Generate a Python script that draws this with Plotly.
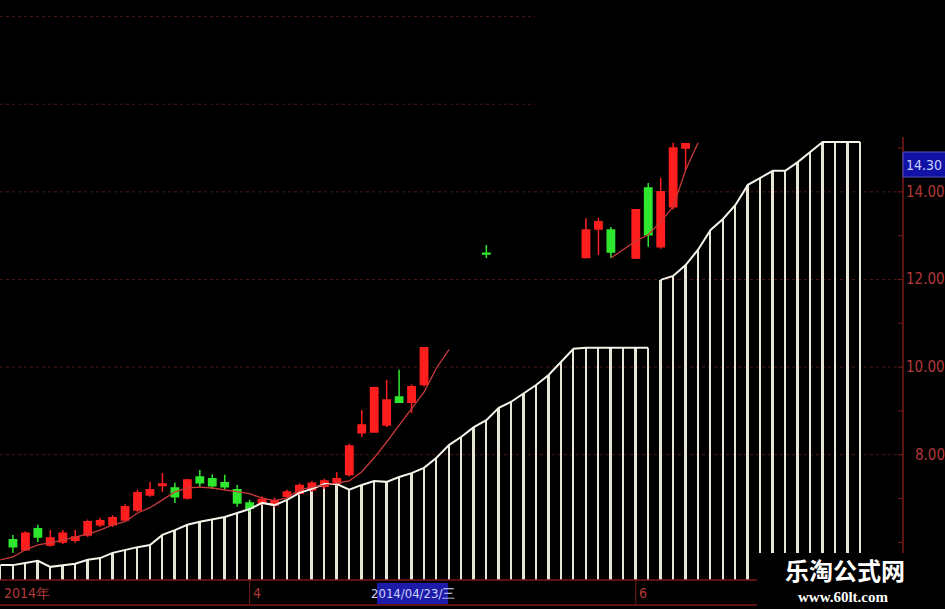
import plotly.graph_objects as go

# ---------------- data ----------------
# white step indicator (one value per bar, index 0..69)
white_vals = [5.48, 5.48, 5.53, 5.58, 5.44, 5.48, 5.51, 5.60, 5.64, 5.76,
              5.83, 5.89, 5.94, 6.17, 6.28, 6.40, 6.47, 6.53, 6.58, 6.67,
              6.76, 6.90, 6.85, 6.97, 7.13, 7.22, 7.33, 7.33, 7.20, 7.31,
              7.40, 7.38, 7.49, 7.58, 7.70, 7.93, 8.22, 8.41, 8.63, 8.79,
              9.07, 9.21, 9.39, 9.59, 9.82, 10.12, 10.42, 10.44, 10.44, 10.44,
              10.44, 10.44, 10.44, 11.99, 12.08, 12.33, 12.68, 13.13, 13.38, 13.70,
              14.16, 14.32, 14.48, 14.48, 14.68, 14.91, 15.14, 15.14, 15.14, 15.14]
white_idx = list(range(len(white_vals)))
white_break = 53  # line is interrupted before this bar

# red moving average (None = not shown)
ma_vals = [5.60, 5.67, 5.83, 5.94, 5.99, 6.05, 6.12, 6.19, 6.28, 6.40,
           6.47, 6.67, 6.79, 6.97, 7.15, 7.24, 7.26, 7.24, 7.20, 7.15,
           7.11, 7.01, 6.95, 7.01, 7.20, 7.26, 7.31, 7.36, 7.40, 7.61,
           7.93, 8.29, 8.66, 9.05, 9.43, 9.98, 10.40, None, None, None,
           None, None, None, None, None, None, None, None, None, 12.49,
           12.68, 12.88, 13.02, 13.32, 13.66, 14.50, 15.12]
ma_idx = list(range(len(ma_vals)))

# candlesticks
candle_idx = [1, 2, 3, 4, 5, 6, 7, 8, 9, 10, 11, 12, 13, 14, 15, 16, 17, 18, 19, 20,
              21, 22, 23, 24, 25, 26, 27, 28, 29, 30, 31, 32, 33, 34, 39,
              47, 48, 49, 51, 52, 53, 54, 55]
c_open = [6.06, 5.83, 6.31, 5.94, 6.01, 6.05, 6.17, 6.40, 6.40, 6.51, 6.74, 7.08, 7.30, 7.24, 7.01, 7.49, 7.45, 7.36, 7.20, 6.90,
          6.90, 6.85, 7.05, 7.12, 7.20, 7.28, 7.35, 7.55, 8.50, 8.52, 8.68, 9.32, 9.20, 9.60, 12.60,
          12.50, 13.15, 13.13, 12.49, 14.09, 12.75, 13.66, 15.00]
c_high = [6.17, 6.25, 6.40, 6.28, 6.28, 6.28, 6.52, 6.56, 6.62, 6.87, 7.20, 7.38, 7.58, 7.36, 7.45, 7.65, 7.55, 7.54, 7.31, 6.97,
          7.05, 7.02, 7.20, 7.35, 7.40, 7.45, 7.60, 8.25, 9.02, 9.55, 9.71, 9.94, 9.60, 10.45, 12.79,
          13.40, 13.41, 13.20, 13.60, 14.20, 14.32, 15.12, 15.12]
c_low = [5.76, 5.80, 6.01, 5.90, 5.96, 5.99, 6.12, 6.35, 6.35, 6.49, 6.70, 7.04, 7.15, 6.90, 6.98, 7.27, 7.22, 7.20, 6.81, 6.70,
         6.85, 6.80, 7.00, 7.08, 7.15, 7.22, 7.30, 7.50, 8.41, 8.50, 8.63, 9.18, 8.95, 9.55, 12.49,
         12.48, 12.56, 12.49, 12.47, 12.75, 12.70, 13.60, 14.50]
c_close = [5.90, 6.21, 6.12, 6.10, 6.21, 6.12, 6.47, 6.49, 6.56, 6.81, 7.13, 7.20, 7.33, 7.04, 7.42, 7.36, 7.29, 7.27, 6.90, 6.78,
           6.98, 6.95, 7.15, 7.30, 7.35, 7.40, 7.45, 8.20, 8.68, 9.53, 9.25, 9.20, 9.55, 10.44, 12.58,
           13.13, 13.32, 12.63, 13.59, 13.02, 14.00, 15.00, 15.10]

# axis labels
price_ticks = [8, 10, 12, 14]
price_labels = ["8.00", "10.00", "12.00", "14.00"]
minor_ticks = [6, 7, 8, 9, 10, 11, 12, 13, 14, 15]
upper_grid = [16, 18]
last_price_label = "14.30"
date_labels = ["2014年", "4", "6"]
date_label_idx = [0, 20, 51]
date_sep_idx = [20, 51]
cursor_label = "2014/04/23/三"
watermark_title = "乐淘公式网"
watermark_url = "www.60lt.com"

# ---------------- styling ----------------
Y_MIN, Y_MAX = 5.14, 18.38
X_MIN, X_MAX = -0.04, 72.45
PLOT_W, PLOT_H = 903, 580
RED = "#ff1e1e"
GREEN = "#2ee82e"
AXIS_RED = "#7a1a1a"
LABEL_RED = "#b03a3a"
GRID = "#4a1a14"
NARROW = "Liberation Sans Narrow, Arial Narrow, DejaVu Sans Condensed, sans-serif"

fig = go.Figure()

fig.add_trace(go.Bar(x=white_idx, y=white_vals, width=0.15,
                     marker=dict(color="#e6e4d4", line=dict(width=0)),
                     hoverinfo="skip"))
fig.add_trace(go.Scatter(x=white_idx[:white_break], y=white_vals[:white_break], mode="lines",
                         line=dict(color="#f4f4ea", width=2.0), hoverinfo="skip"))
fig.add_trace(go.Scatter(x=white_idx[white_break:], y=white_vals[white_break:], mode="lines",
                         line=dict(color="#f4f4ea", width=2.0), hoverinfo="skip"))
fig.add_trace(go.Scatter(x=ma_idx, y=ma_vals, mode="lines",
                         line=dict(color="#c83a3a", width=1.3), hoverinfo="skip"))
fig.add_trace(go.Candlestick(x=candle_idx, open=c_open, high=c_high, low=c_low, close=c_close,
                             increasing=dict(fillcolor=RED, line=dict(color=RED, width=1.5)),
                             decreasing=dict(fillcolor=GREEN, line=dict(color=GREEN, width=1.5)),
                             whiskerwidth=0, hoverinfo="skip"))

shapes = []
# grid lines
for v in price_ticks:
    shapes.append(dict(type="line", xref="paper", yref="y", x0=0, x1=1, y0=v, y1=v,
                       line=dict(color=GRID, width=1, dash="dot"), layer="below"))
for v in upper_grid:
    shapes.append(dict(type="line", xref="paper", yref="y", x0=0, x1=535 / PLOT_W, y0=v, y1=v,
                       line=dict(color=GRID, width=1, dash="dot"), layer="below"))
# right axis line + ticks
shapes.append(dict(type="line", xref="paper", yref="y", x0=1, x1=1, y0=Y_MIN, y1=15.25,
                   line=dict(color=AXIS_RED, width=1.5)))
for v in minor_ticks:
    shapes.append(dict(type="line", xref="paper", yref="y", x0=1 - 5 / PLOT_W, x1=1, y0=v, y1=v,
                       line=dict(color=AXIS_RED, width=1)))
# date strip
strip_bottom = -25 / PLOT_H
shapes.append(dict(type="line", xref="paper", yref="paper", x0=0, x1=1, y0=0, y1=0,
                   line=dict(color=AXIS_RED, width=1.5)))
shapes.append(dict(type="line", xref="paper", yref="paper", x0=0, x1=1, y0=strip_bottom, y1=strip_bottom,
                   line=dict(color=AXIS_RED, width=1.5)))
for i in date_sep_idx:
    shapes.append(dict(type="line", xref="x", yref="paper", x0=i, x1=i, y0=0, y1=strip_bottom,
                       line=dict(color=AXIS_RED, width=1)))
# cursor date box
shapes.append(dict(type="rect", xref="paper", yref="paper", x0=377 / PLOT_W, x1=448 / PLOT_W,
                   y0=-24 / PLOT_H, y1=-3 / PLOT_H, fillcolor="#1c1ca8", line=dict(width=0)))
# last price box
shapes.append(dict(type="rect", xref="paper", yref="paper", x0=1, x1=1 + 45 / PLOT_W,
                   y0=1 - 177 / PLOT_H, y1=1 - 152 / PLOT_H, fillcolor="#1212a6",
                   line=dict(color="#5050c0", width=1)))
# watermark backing
shapes.append(dict(type="rect", xref="paper", yref="paper", x0=757 / PLOT_W, x1=1 + 45 / PLOT_W,
                   y0=-30 / PLOT_H, y1=1 - 553 / PLOT_H, fillcolor="#000000", line=dict(width=0)))

annotations = []
for v, t in zip(price_ticks, price_labels):
    annotations.append(dict(xref="paper", yref="y", x=1 + 44 / PLOT_W, y=v, text=t, showarrow=False,
                            xanchor="right", yanchor="middle",
                            font=dict(family=NARROW, size=15, color=LABEL_RED)))
annotations.append(dict(xref="paper", yref="paper", x=1 + 1 / PLOT_W, y=1 - 165 / PLOT_H,
                        text=last_price_label, showarrow=False, xanchor="left", yanchor="middle",
                        font=dict(family=NARROW, size=14, color="#c8d0ff")))
for i, t in zip(date_label_idx, date_labels):
    annotations.append(dict(xref="x", yref="paper", x=i, y=-12.5 / PLOT_H, text=t, showarrow=False,
                            xanchor="left", yanchor="middle", xshift=1,
                            font=dict(family=NARROW, size=14, color=LABEL_RED)))
annotations.append(dict(xref="paper", yref="paper", x=413 / PLOT_W, y=-13.5 / PLOT_H, text=cursor_label,
                        showarrow=False, xanchor="center", yanchor="middle",
                        font=dict(family=NARROW, size=13, color="#d0d0ff")))
annotations.append(dict(xref="paper", yref="paper", x=845 / PLOT_W, y=1 - 569 / PLOT_H,
                        text="<b>" + watermark_title + "</b>", showarrow=False,
                        xanchor="center", yanchor="middle",
                        font=dict(family="Noto Sans CJK SC", size=24, color="#ffffff")))
annotations.append(dict(xref="paper", yref="paper", x=843 / PLOT_W, y=1 - 597 / PLOT_H,
                        text="<b>" + watermark_url + "</b>", showarrow=False,
                        xanchor="center", yanchor="middle",
                        font=dict(family="Liberation Serif, serif", size=15, color="#ffffff")))

fig.update_layout(
    width=945, height=609,
    margin=dict(l=0, r=42, t=0, b=29, pad=0),
    paper_bgcolor="#000000", plot_bgcolor="#000000",
    showlegend=False, bargap=0, boxgap=0.16,
    shapes=shapes, annotations=annotations,
    xaxis=dict(range=[X_MIN, X_MAX], showgrid=False, zeroline=False, showticklabels=False,
               ticks="", rangeslider=dict(visible=False), fixedrange=True),
    yaxis=dict(range=[Y_MIN, Y_MAX], side="right", showgrid=False, zeroline=False,
               showticklabels=False, ticks="", fixedrange=True),
)

fig.write_html("out.html", config={"displayModeBar": False},
               post_script="document.body.style.margin='0';document.body.style.background='#000';")
